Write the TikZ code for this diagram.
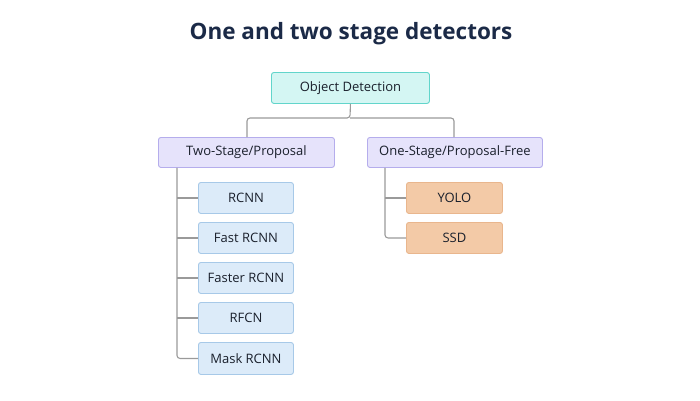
\documentclass[tikz,border=0pt]{standalone}
\usepackage{fontspec}
\setmainfont{Open Sans}
\usetikzlibrary{positioning}
\definecolor{titlec}{HTML}{1B2A47}
\definecolor{txt}{HTML}{1A202C}
\definecolor{linec}{HTML}{9A9A9A}
\definecolor{cyanf}{HTML}{D4F6F3}
\definecolor{cyand}{HTML}{62D5CB}
\definecolor{lavf}{HTML}{E6E3FB}
\definecolor{lavd}{HTML}{B5ADEC}
\definecolor{bluef}{HTML}{DCEBF9}
\definecolor{blued}{HTML}{A7C9E8}
\definecolor{peachf}{HTML}{F3CAA7}
\definecolor{peachd}{HTML}{E9B68D}
\tikzset{
  box/.style={draw, rounded corners=2.5pt, line width=0.9pt, text=txt, font=\fontsize{13}{15}\selectfont, inner sep=0pt, anchor=north west},
  rootbox/.style={box, fill=cyanf, draw=cyand},
  catbox/.style={box, fill=lavf, draw=lavd},
  leafbox/.style={box, fill=bluef, draw=blued},
  onebox/.style={box, fill=peachf, draw=peachd},
  conn/.style={draw=linec, line width=1.1pt, rounded corners=3pt}
}
\begin{document}
\begin{tikzpicture}[x=1pt,y=-1pt]
\useasboundingbox[fill=white] (0,0) rectangle (700,400);
\node[font=\fontsize{22.5}{26}\selectfont\bfseries, text=titlec] (title) at (351,34) {One and two stage detectors};
\node[rootbox, minimum width=158pt, minimum height=31pt] (root) at (271,72) {Object Detection};
\node[catbox, minimum width=176pt, minimum height=30pt] (two) at (158,137) {Two-Stage/Proposal};
\node[catbox, minimum width=175pt, minimum height=30pt] (one) at (367,137) {One-Stage/Proposal-Free};
\node[leafbox, minimum width=95pt, minimum height=31pt] (rcnn) at (198,182) {RCNN};
\node[leafbox, minimum width=95pt, minimum height=31pt] (fast) at (198,222) {Fast RCNN};
\node[leafbox, minimum width=95pt, minimum height=31pt] (faster) at (198,262) {Faster RCNN};
\node[leafbox, minimum width=95pt, minimum height=31pt] (rfcn) at (198,302) {RFCN};
\node[leafbox, minimum width=95pt, minimum height=32pt] (mask) at (198,342) {Mask RCNN};
\node[onebox, minimum width=96pt, minimum height=31pt] (yolo) at (406,182) {YOLO};
\node[onebox, minimum width=96pt, minimum height=31pt] (ssd) at (406,222) {SSD};
% root to categories
\coordinate (mid) at (350,118);
\draw[conn] (root.south) -- (mid) -| ([xshift=89pt]two.north west);
\draw[conn] (mid) -| ([xshift=87pt]one.north west);
% two-stage tree
\coordinate (ltop) at ([xshift=19pt]two.south west);
\draw[conn] (ltop) |- (mask.west);
\foreach \n in {rcnn,fast,faster,rfcn} { \draw[conn] (ltop |- \n.west) -- (\n.west); }
% one-stage tree
\coordinate (rtop) at ([xshift=18pt]one.south west);
\draw[conn] (rtop) |- (ssd.west);
\draw[conn] (rtop |- yolo.west) -- (yolo.west);
\end{tikzpicture}
\end{document}
